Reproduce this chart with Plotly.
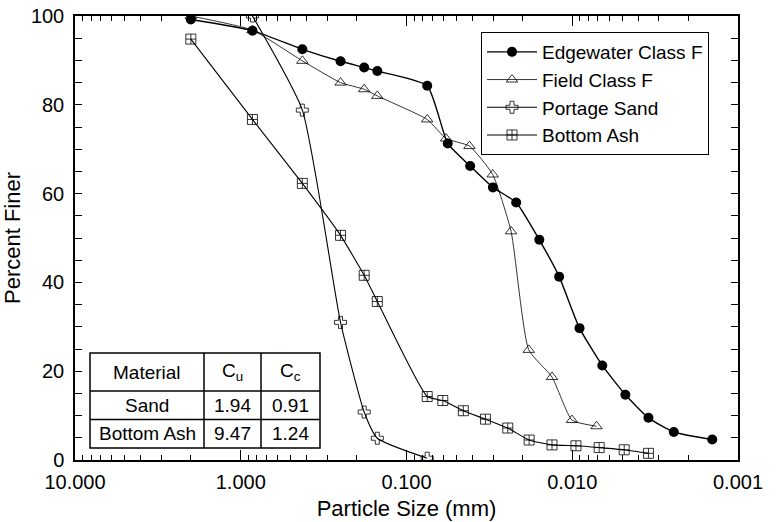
import plotly.graph_objects as go

# ---- data ----
edge_x = [2.0, 0.85, 0.425, 0.25, 0.18, 0.15, 0.075, 0.0564, 0.0413, 0.0301, 0.0218,
          0.0158, 0.0120, 0.00904, 0.00659, 0.00478, 0.00347, 0.00244, 0.00143]
edge_y = [99.2, 96.7, 92.5, 89.8, 88.4, 87.6, 84.3, 71.3, 66.2, 61.4, 58.0,
          49.6, 41.3, 29.7, 21.3, 14.7, 9.5, 6.3, 4.6]

field_x = [2.0, 0.85, 0.425, 0.25, 0.18, 0.15, 0.075, 0.0577, 0.0417, 0.0302, 0.0234,
           0.0183, 0.01325, 0.01004, 0.00714]
field_y = [100.0, 96.8, 89.9, 85.0, 83.5, 82.0, 76.7, 72.4, 70.7, 64.3, 51.5,
           24.8, 18.7, 9.0, 7.6]

sand_x = [0.85, 0.425, 0.25, 0.18, 0.15, 0.075]
sand_y = [100.0, 78.8, 31.0, 10.8, 4.9, 0.4]

ash_x = [2.0, 0.85, 0.425, 0.25, 0.18, 0.15, 0.075, 0.0604, 0.0454, 0.0334, 0.0245,
         0.0182, 0.01325, 0.0095, 0.00688, 0.00486, 0.00347]
ash_y = [94.8, 76.7, 62.3, 50.6, 41.6, 35.7, 14.3, 13.4, 11.1, 9.2, 7.2,
         4.5, 3.4, 3.2, 2.8, 2.3, 1.5]

x_tickvals = [10, 1, 0.1, 0.01, 0.001]
x_ticktext = ["10.000", "1.000", "0.100", "0.010", "0.001"]

table_header = ["Material", "C<sub>u</sub>", "C<sub>c</sub>"]
table_materials = ["Sand", "Bottom Ash"]
table_cu = ["1.94", "9.47"]
table_cc = ["0.91", "1.24"]

FONT = "Liberation Sans, Arial, sans-serif"

fig = go.Figure()
fig.add_trace(go.Scatter(x=edge_x, y=edge_y, name="Edgewater Class F", mode="lines+markers",
                         line=dict(color="black", width=1.4, shape="spline", smoothing=0.5),
                         marker=dict(symbol="circle", size=10, color="black")))
fig.add_trace(go.Scatter(x=field_x, y=field_y, name="Field Class F", mode="lines+markers",
                         line=dict(color="black", width=0.8, shape="spline", smoothing=0.5),
                         marker=dict(symbol="triangle-up-open", size=10, color="black",
                                     line=dict(width=0.8))))
fig.add_trace(go.Scatter(x=sand_x, y=sand_y, name="Portage Sand", mode="lines+markers",
                         line=dict(color="black", width=1.1, shape="spline", smoothing=0.5),
                         marker=dict(symbol="cross-open", size=10, color="black",
                                     line=dict(width=0.8))))
fig.add_trace(go.Scatter(x=ash_x, y=ash_y, name="Bottom Ash", mode="lines+markers",
                         line=dict(color="black", width=1.1, shape="spline", smoothing=0.5),
                         marker=dict(symbol="square-cross-open", size=10, color="black",
                                     line=dict(width=0.8))))

# minor ticks on log axis
minor_vals = []
for dec in [1, 0.1, 0.01, 0.001]:
    for k in range(2, 10):
        minor_vals.append(k * dec)

L, R, T, B = 75, 40, 16, 62
W, H = 778, 522
pw = W - L - R
ph = H - T - B

def px2paper(px, py):
    return (px - L) / pw, (H - B - py) / ph

fig.update_layout(
    width=W, height=H,
    margin=dict(l=L, r=R, t=T, b=B, autoexpand=False),
    paper_bgcolor="white", plot_bgcolor="white",
    font=dict(family=FONT, size=20, color="black"),
    showlegend=True,
    legend=dict(x=px2paper(481, 32)[0], y=px2paper(481, 32)[1], xanchor="left", yanchor="top",
                bordercolor="black", borderwidth=1, bgcolor="white",
                font=dict(size=19), tracegroupgap=0, itemwidth=50),
    xaxis=dict(type="log", range=[1, -3], autorange=False,
               tickvals=x_tickvals, ticktext=x_ticktext,
               ticks="inside", ticklen=10, tickwidth=1, tickcolor="black",
               ticklabelstandoff=3,
               minor=dict(tickvals=minor_vals, ticks="inside", ticklen=5, tickwidth=1,
                          tickcolor="black", showgrid=False),
               showline=True, linecolor="black", linewidth=1.5, mirror="ticks",
               showgrid=False, zeroline=False,
               title=dict(text="Particle Size (mm)", font=dict(size=22), standoff=9),
               tickfont=dict(size=20)),
    yaxis=dict(range=[0, 100], autorange=False,
               tickvals=[0, 20, 40, 60, 80, 100],
               ticks="inside", ticklen=7, tickwidth=1, tickcolor="black",
               ticklabelstandoff=5,
               minor=dict(dtick=5, tick0=0, ticks="inside", ticklen=7, tickwidth=1,
                          tickcolor="black", showgrid=False),
               showline=True, linecolor="black", linewidth=1.5, mirror="ticks",
               showgrid=False, zeroline=False,
               title=dict(text="Percent Finer", font=dict(size=22), standoff=10),
               tickfont=dict(size=20)),
)

# ---- table drawn with shapes and annotations ----
col_px = [90, 204, 261, 320]
row_px = [353, 391, 419.5, 448]
shapes = []
x0, y0 = px2paper(col_px[0], row_px[0])
x1, y1 = px2paper(col_px[-1], row_px[-1])
shapes.append(dict(type="rect", xref="paper", yref="paper", x0=x0, y0=y1, x1=x1, y1=y0,
                   line=dict(color="black", width=1.5), fillcolor="white", layer="above"))
for c in col_px[1:-1]:
    cx, _ = px2paper(c, 0)
    shapes.append(dict(type="line", xref="paper", yref="paper", x0=cx, x1=cx, y0=y1, y1=y0,
                       line=dict(color="black", width=1.5), layer="above"))
for r in row_px[1:-1]:
    _, ry = px2paper(0, r)
    shapes.append(dict(type="line", xref="paper", yref="paper", x0=x0, x1=x1, y0=ry, y1=ry,
                       line=dict(color="black", width=1.5), layer="above"))
fig.update_layout(shapes=shapes)

rows = [table_header] + [[m, cu, cc] for m, cu, cc in zip(table_materials, table_cu, table_cc)]
for ri, row in enumerate(rows):
    for ci, txt in enumerate(row):
        cxp = (col_px[ci] + col_px[ci + 1]) / 2
        cyp = (row_px[ri] + row_px[ri + 1]) / 2
        ax, ay = px2paper(cxp, cyp)
        fig.add_annotation(x=ax, y=ay, xref="paper", yref="paper", text=txt, showarrow=False,
                           font=dict(size=19, family=FONT, color="black"),
                           xanchor="center", yanchor="middle")

fig.write_html("out.html")
